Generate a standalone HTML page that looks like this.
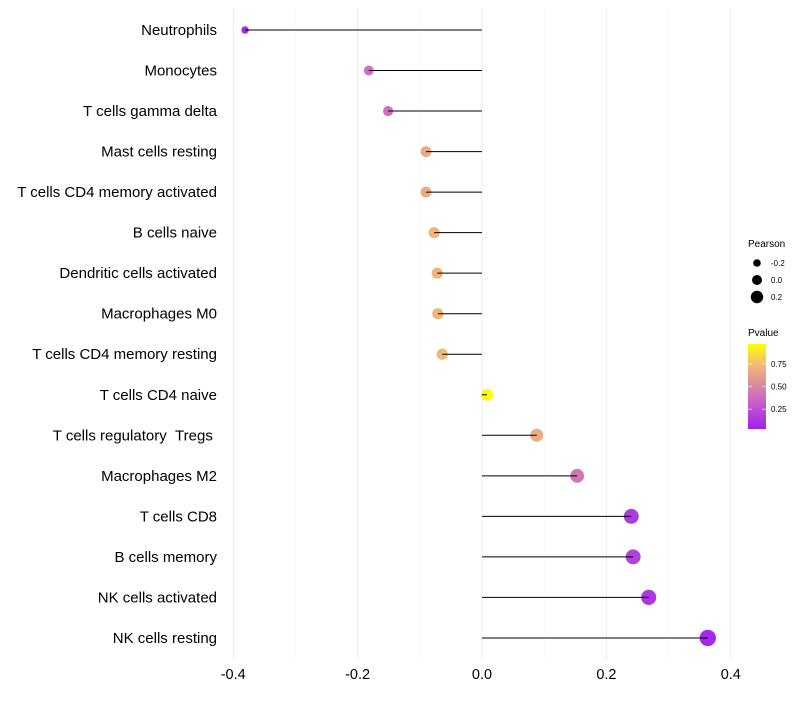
<!DOCTYPE html>
<html><head><meta charset="utf-8"><style>
body{margin:0;background:#fff;font-family:"Liberation Sans",sans-serif}
</style></head><body>
<svg id="c" width="800" height="700" xmlns="http://www.w3.org/2000/svg">
<defs><linearGradient id="pg" x1="0" y1="1" x2="0" y2="0">
<stop offset="0" stop-color="#A020F0"/><stop offset="0.35" stop-color="#CC66C4"/><stop offset="0.55" stop-color="#E0909A"/><stop offset="0.75" stop-color="#F0B878"/><stop offset="1" stop-color="#FFFF00"/></linearGradient></defs>
</svg>
<script>
const categories=["Neutrophils","Monocytes","T cells gamma delta","Mast cells resting","T cells CD4 memory activated","B cells naive","Dendritic cells activated","Macrophages M0","T cells CD4 memory resting","T cells CD4 naive","T cells regulatory \u00a0Tregs\u00a0","Macrophages M2","T cells CD8","B cells memory","NK cells activated","NK cells resting"];
const pearson=[-0.381,-0.182,-0.151,-0.090,-0.090,-0.077,-0.072,-0.071,-0.064,0.008,0.088,0.153,0.240,0.243,0.268,0.363];
const pvalues=[0.08,0.40,0.40,0.68,0.68,0.72,0.72,0.72,0.74,0.97,0.68,0.42,0.15,0.18,0.14,0.07];
const xTicks=[-0.4,-0.2,0.0,0.2,0.4];
const xMinor=[-0.3,-0.1,0.1,0.3];
const pTicks=[0.25,0.5,0.75];
const pTickLabels=["0.25","0.50","0.75"];
const sizeVals=[-0.2,0.0,0.2];
const sizeLabels=["-0.2","0.0","0.2"];

const svg=document.getElementById('c');const NS="http://www.w3.org/2000/svg";
const X=v=>482+v*622;
const Y=i=>30+i*40.53;
const R=v=>Math.max(2.2,6+6*v);
const P=p=>429-(p-0.03)/(0.94)*85;
const stops=[[0,[160,32,240]],[0.35,[204,102,196]],[0.55,[224,144,154]],[0.75,[240,184,120]],[1,[255,255,0]]];
function col(p){let t=(p-0.03)/0.94;t=Math.max(0,Math.min(1,t));for(let k=1;k<stops.length;k++){if(t<=stops[k][0]){const a=stops[k-1],b=stops[k];const f=(t-a[0])/(b[0]-a[0]);const c=a[1].map((v,j)=>Math.round(v+(b[1][j]-v)*f));return`rgb(${c})`;}}return"rgb(255,255,0)";}
function el(t,a,txt){const e=document.createElementNS(NS,t);for(const k in a)e.setAttribute(k,a[k]);if(txt!==undefined)e.textContent=txt;svg.appendChild(e);return e;}

xMinor.forEach(v=>{const l=el('line',{x1:X(v),x2:X(v),y1:8,y2:660,stroke:'#f5f5f5','stroke-width':0.6});

});
xTicks.forEach(v=>{const l=el('line',{x1:X(v),x2:X(v),y1:8,y2:660,stroke:'#ededed','stroke-width':1});


const t=el('text',{x:X(v),y:679,'text-anchor':'middle','font-size':14.5,fill:'#000'},v.toFixed(1));

});
categories.forEach((c,i)=>{const t=el('text',{x:217,y:Y(i)+5,'text-anchor':'end','font-size':15,fill:'#000'},c);

});
pearson.forEach((v,i)=>{const d=el('circle',{cx:X(v),cy:Y(i),r:R(v),fill:col(pvalues[i])});

});
pearson.forEach((v,i)=>{const l=el('line',{x1:X(0),x2:X(v),y1:Y(i),y2:Y(i),stroke:'#000','stroke-width':1});

});
let t=el('text',{x:748,y:247,'font-size':10},'Pearson');


sizeVals.forEach((v,k)=>{const cy=263+k*17;const d=el('circle',{cx:757,cy:cy,r:R(v)-1,fill:'#000'});


const tt=el('text',{x:771,y:cy+3,'font-size':8},sizeLabels[k]);

});
t=el('text',{x:748,y:336,'font-size':10},'Pvalue');


const bar=el('rect',{x:748,y:344,width:18,height:85,fill:'url(#pg)'});


pTicks.forEach((p,k)=>{const y=P(p);el('line',{x1:748,x2:752,y1:y,y2:y,stroke:'#fff','stroke-width':0.6});el('line',{x1:762,x2:766,y1:y,y2:y,stroke:'#fff','stroke-width':0.6});
const tt=el('text',{x:771,y:y+3,'font-size':8},pTickLabels[k]);

});
</script>
</body></html>
